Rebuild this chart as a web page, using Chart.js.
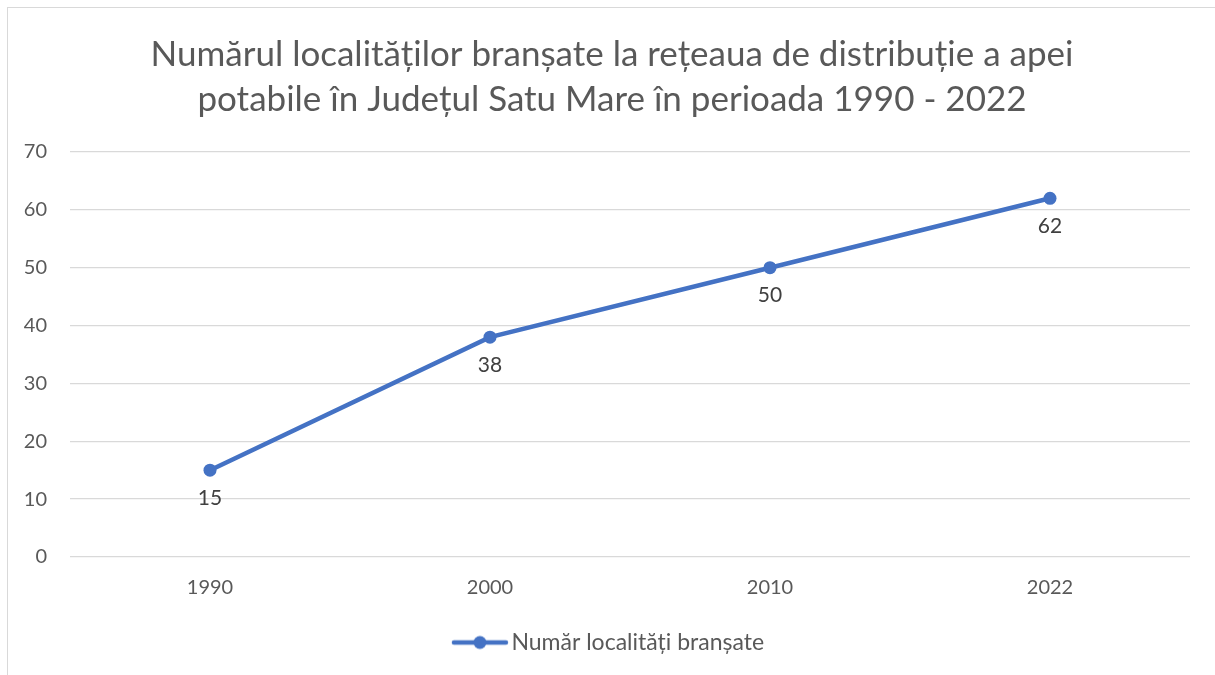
<!DOCTYPE html>
<html>
<head>
<meta charset="utf-8">
<script src="https://cdn.jsdelivr.net/npm/chart.js@4.4.1/dist/chart.umd.min.js"></script>
<style>
  html, body { margin: 0; padding: 0; background: #fff; overflow: hidden; }
  #box { position: absolute; left: 7px; top: 7px; width: 1220px; height: 668px;
         border-left: 1px solid #d9d9d9; border-top: 1px solid #d9d9d9; }
  canvas { display: block; }
</style>
</head>
<body>
<div id="box"><canvas id="c" width="1208" height="668"></canvas></div>
<script>
const titleLines = ["Numărul localităților branșate la rețeaua de distribuție a apei",
                    "potabile în Județul Satu Mare în perioada 1990 - 2022"];
const categories = ["1990", "2000", "2010", "2022"];
const seriesName = "Număr localități branșate";
const seriesValues = [15, 38, 50, 62];
const yTicks = [0, 10, 20, 30, 40, 50, 60, 70];

const FONT = "Lato, 'Open Sans', sans-serif";
const BLUE = "#4472C4";
const TXT = "#595959";

const legendIcon = (() => {
  const cv = document.createElement('canvas');
  cv.width = 58; cv.height = 16;
  const g = cv.getContext('2d');
  g.strokeStyle = BLUE; g.lineWidth = 4.5; g.lineCap = 'round';
  g.beginPath(); g.moveTo(3, 8); g.lineTo(55, 8); g.stroke();
  g.fillStyle = BLUE; g.beginPath(); g.arc(29, 8, 6.5, 0, Math.PI * 2); g.fill();
  return cv;
})();

const dataLabels = {
  id: 'dataLabels',
  afterDatasetsDraw(chart) {
    const ctx = chart.ctx;
    ctx.save();
    ctx.font = "21px " + FONT;
    ctx.fillStyle = "#404040";
    ctx.textAlign = 'center';
    ctx.textBaseline = 'middle';
    chart.data.datasets.forEach((ds, i) => {
      chart.getDatasetMeta(i).data.forEach((pt, j) => {
        ctx.fillText(String(ds.data[j]), pt.x, pt.y + 28);
      });
    });
    ctx.restore();
  }
};

new Chart(document.getElementById('c'), {
  type: 'line',
  data: {
    labels: categories,
    datasets: [{
      label: seriesName,
      data: seriesValues,
      borderColor: BLUE,
      backgroundColor: BLUE,
      borderWidth: 4.5,
      pointRadius: 6.5,
      pointHoverRadius: 6.5,
      pointBackgroundColor: BLUE,
      pointBorderWidth: 0,
      tension: 0
    }]
  },
  options: {
    responsive: false,
    animation: false,
    events: [],
    layout: { padding: { left: 0, right: 0, top: 0, bottom: 12 } },
    plugins: {
      title: {
        display: true,
        text: titleLines,
        color: TXT,
        font: { family: FONT, size: 35, weight: 'normal', lineHeight: 1.2857 },
        padding: { top: 24, bottom: 30 }
      },
      legend: {
        position: 'bottom',
        labels: {
          color: TXT,
          font: { family: FONT, size: 23 },
          usePointStyle: true,
          pointStyleWidth: 40,
          boxHeight: 16,
          padding: 10,
          generateLabels: (chart) => [{
            text: seriesName,
            pointStyle: legendIcon,
            fontColor: TXT,
            lineWidth: 0,
            strokeStyle: 'transparent',
            fillStyle: BLUE,
            datasetIndex: 0
          }]
        }
      },
      tooltip: { enabled: false }
    },
    scales: {
      x: {
        offset: true,
        grid: { display: false, drawTicks: false },
        border: { display: false },
        ticks: { color: TXT, font: { family: FONT, size: 20 }, padding: 19 },
        afterFit: (s) => { s.height += 2; }
      },
      y: {
        min: 0, max: 70,
        afterBuildTicks: (s) => { s.ticks = yTicks.map(v => ({ value: v })); },
        afterFit: (s) => { s.width = 62; },
        grid: { color: "#d9d9d9", lineWidth: 1.3, drawTicks: false },
        border: { display: false },
        ticks: { color: TXT, font: { family: FONT, size: 20 }, padding: 23 }
      },
      yRight: {
        position: 'right',
        min: 0, max: 70,
        grid: { display: false, drawTicks: false },
        border: { display: false },
        ticks: { display: false },
        afterFit: (s) => { s.width = 26; }
      }
    }
  },
  plugins: [dataLabels]
});
</script>
</body>
</html>
